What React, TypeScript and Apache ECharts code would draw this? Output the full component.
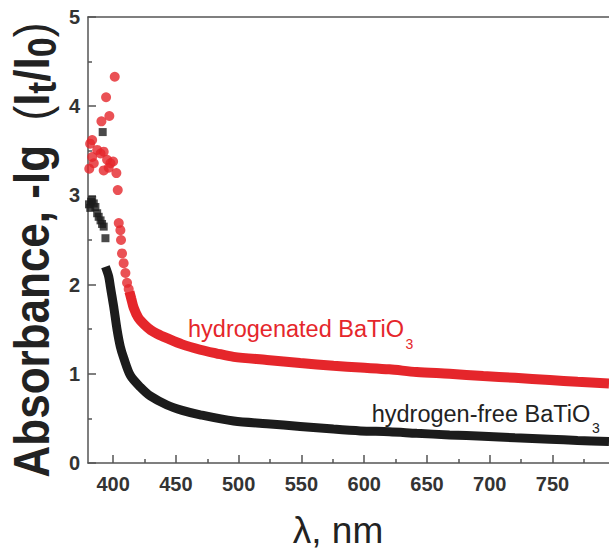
import React, { useEffect, useRef } from 'react';
import * as echarts from 'echarts';

// Sparse (individually visible) markers
const redScatter: [number, number][] = [
  [381.0, 3.30], [381.7, 3.58], [383.3, 3.62], [383.3, 3.43], [384.6, 3.36],
  [387.3, 3.51], [390.0, 3.47], [392.5, 3.49], [392.5, 3.28], [395.2, 3.40],
  [396.5, 3.31], [397.9, 3.36], [400.0, 3.38], [390.7, 3.83], [394.4, 4.10],
  [397.0, 3.89], [401.3, 4.33], [402.6, 3.25], [403.7, 3.06], [404.5, 2.69],
  [405.8, 2.61], [406.3, 2.50], [407.1, 2.35], [408.4, 2.24], [409.8, 2.13],
  [411.1, 2.02], [412.4, 1.95],
];

// Dense band of the hydrogenated sample
const redCurve: [number, number][] = [
  [413.0, 1.92], [414.5, 1.84], [416.4, 1.74], [420, 1.63], [425, 1.55], [430, 1.49],
  [435, 1.45], [442.9, 1.40], [455, 1.33], [469.4, 1.27], [482, 1.23],
  [496, 1.19], [522.5, 1.155], [549, 1.12], [575.5, 1.09], [597, 1.07],
  [620, 1.05], [641.8, 1.02], [668, 1.0], [694.8, 0.975], [720, 0.955],
  [747.8, 0.93], [770, 0.91], [795, 0.89],
];

const blackScatter: [number, number][] = [
  [380.8, 2.90], [381.8, 2.86], [382.5, 2.93], [383.3, 2.95], [384.6, 2.91],
  [385.9, 2.87], [387.3, 2.80], [388.5, 2.76], [390.0, 2.72], [391.2, 2.68],
  [392.5, 2.65], [393.9, 2.52], [391.7, 3.71],
];

const blackCurve: [number, number][] = [
  [393.9, 2.20], [396.5, 2.09], [397.9, 1.97], [399.2, 1.86], [400.5, 1.75],
  [403.2, 1.49], [405.8, 1.30], [408.4, 1.18], [413.8, 0.98], [421.7, 0.85],
  [429.7, 0.75], [442.9, 0.65], [455, 0.59], [469.4, 0.54], [496, 0.47],
  [522.5, 0.44], [549, 0.41], [575.5, 0.38], [597, 0.36], [620, 0.35],
  [641.8, 0.333], [668, 0.315], [694.8, 0.30], [720, 0.283], [747.8, 0.266],
  [770, 0.253], [795, 0.24],
];

const xMajorTicks = [400, 450, 500, 550, 600, 650, 700, 750];
const xMinorTicks = [425, 475, 525, 575, 625, 675, 725, 775];

const RED = '#e5262b';
const BLACK = '#1c1c1c';
const AXIS = '#555555';
const SANS = 'Arial, "Liberation Sans", sans-serif';

export default function App() {
  const ref = useRef<HTMLDivElement>(null);
  useEffect(() => {
    const chart = echarts.init(ref.current!, null, { renderer: 'svg' });
    const axisLineStyle = { color: AXIS, width: 1.5 };
    const labelStyle = {
      fontSize: 20,
      fontWeight: 'bold' as const,
      color: '#333',
      fontFamily: SANS,
    };
    chart.setOption({
      animation: false,
      backgroundColor: '#ffffff',
      grid: { left: 88, top: 17, right: 0, bottom: 89, outerBoundsMode: 'none' },
      xAxis: [
        {
          type: 'value',
          min: 380,
          max: 795,
          position: 'bottom',
          axisLine: { show: true, onZero: false, lineStyle: axisLineStyle },
          axisTick: { show: true, inside: true, length: 8, customValues: xMajorTicks, lineStyle: axisLineStyle },
          axisLabel: { ...labelStyle, margin: 11, customValues: xMajorTicks },
          splitLine: { show: false },
        },
        {
          type: 'value',
          min: 380,
          max: 795,
          position: 'bottom',
          axisLine: { show: false, onZero: false },
          axisTick: { show: true, inside: true, length: 4, customValues: xMinorTicks, lineStyle: axisLineStyle },
          axisLabel: { show: false },
          splitLine: { show: false },
        },
        {
          type: 'value',
          min: 380,
          max: 795,
          position: 'top',
          axisLine: { show: true, onZero: false, lineStyle: axisLineStyle },
          axisTick: { show: false },
          axisLabel: { show: false },
          splitLine: { show: false },
        },
      ],
      yAxis: {
        type: 'value',
        min: 0,
        max: 5,
        interval: 1,
        axisLine: { show: true, onZero: false, lineStyle: axisLineStyle },
        axisTick: { show: true, inside: true, length: 8, lineStyle: axisLineStyle },
        minorTick: { show: true, splitNumber: 2, length: 4, lineStyle: axisLineStyle },
        axisLabel: { ...labelStyle, margin: 8 },
        splitLine: { show: false },
      },
      series: [
        {
          name: 'hydrogen-free BaTiO3',
          type: 'line',
          data: blackCurve,
          symbol: 'none',
          smooth: 0.3,
          lineStyle: { color: BLACK, width: 9 },
          z: 2,
        },
        {
          name: 'hydrogen-free BaTiO3 (sparse)',
          type: 'scatter',
          data: blackScatter,
          symbol: 'rect',
          symbolSize: 8,
          itemStyle: { color: BLACK },
          z: 2,
        },
        {
          name: 'hydrogenated BaTiO3',
          type: 'line',
          data: redCurve,
          symbol: 'none',
          smooth: 0.3,
          lineStyle: { color: RED, width: 10 },
          z: 3,
        },
        {
          name: 'hydrogenated BaTiO3 (sparse)',
          type: 'scatter',
          data: redScatter,
          symbol: 'circle',
          symbolSize: 10,
          itemStyle: { color: RED },
          z: 3,
        },
      ],
      graphic: [
        {
          type: 'text',
          x: 188,
          y: 328.5,
          z: 10,
          style: {
            text: 'hydrogenated BaTiO',
            fill: RED,
            fontSize: 23.5,
            fontFamily: SANS,
            align: 'left',
            verticalAlign: 'middle',
          },
        },
        {
          type: 'text',
          x: 405.5,
          y: 344,
          z: 10,
          style: {
            text: '3',
            fill: RED,
            fontSize: 14,
            fontFamily: SANS,
            align: 'left',
            verticalAlign: 'middle',
          },
        },
        {
          type: 'text',
          x: 371.7,
          y: 413.5,
          z: 10,
          style: {
            text: 'hydrogen-free BaTiO',
            fill: '#222',
            fontSize: 23.5,
            fontFamily: SANS,
            align: 'left',
            verticalAlign: 'middle',
          },
        },
        {
          type: 'text',
          x: 592,
          y: 428,
          z: 10,
          style: {
            text: '3',
            fill: '#222',
            fontSize: 14,
            fontFamily: SANS,
            align: 'left',
            verticalAlign: 'middle',
          },
        },
        {
          type: 'text',
          x: 338,
          y: 530,
          z: 10,
          style: {
            text: 'λ, nm',
            fill: '#222',
            fontSize: 37,
            fontFamily: SANS,
            align: 'center',
            verticalAlign: 'middle',
          },
        },
        {
          type: 'text',
          x: 31,
          y: 250,
          rotation: Math.PI / 2,
          scaleY: 1.15,
          z: 10,
          style: {
            text: '{a|Absorbance, -lg}{p|  (}{a|I}{s|t}{a|/I}{s|0}{p|)}',
            fill: '#222',
            align: 'center',
            verticalAlign: 'middle',
            rich: {
              a: {
                fontSize: 44,
                fontWeight: 'bold',
                fontFamily: SANS,
                fill: '#222',
                lineHeight: 44,
                verticalAlign: 'top',
              },
              s: {
                fontSize: 36,
                fontWeight: 'bold',
                fontFamily: SANS,
                fill: '#222',
                lineHeight: 36,
                padding: [13, 0, 0, 0],
                verticalAlign: 'top',
              },
              p: {
                fontSize: 44,
                fontFamily: SANS,
                fill: '#222',
                lineHeight: 44,
                verticalAlign: 'top',
              },
            },
          },
        },
      ],
    });
    return () => chart.dispose();
  }, []);
  return (
    <div
      ref={ref}
      style={{ position: 'fixed', left: 0, top: 0, width: 609, height: 552, background: '#fff' }}
    />
  );
}
